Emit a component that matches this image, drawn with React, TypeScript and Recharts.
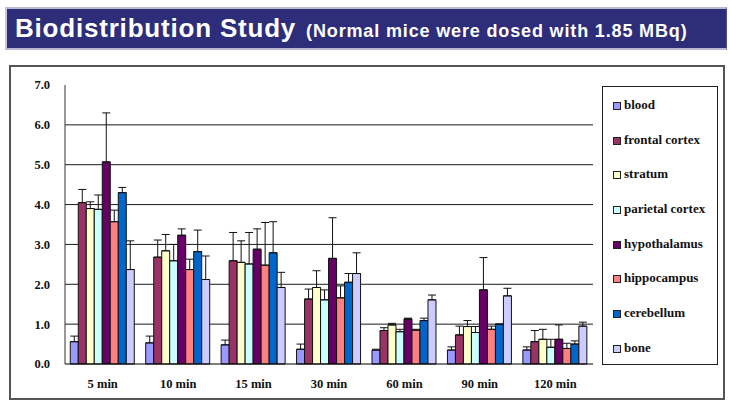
import { Bar, BarChart, CartesianGrid, ErrorBar, XAxis, YAxis } from "recharts"

const categories = ["5 min", "10 min", "15 min", "30 min", "60 min", "90 min", "120 min"]
const yTicks = [0, 1, 2, 3, 4, 5, 6, 7]

// mean %ID/g and upper error (SD)
const blood = [0.56, 0.53, 0.48, 0.37, 0.35, 0.35, 0.35]
const bloodSd = [0.14, 0.17, 0.12, 0.13, 0.02, 0.08, 0.08]
const frontalCortex = [4.05, 2.68, 2.59, 1.63, 0.84, 0.73, 0.56]
const frontalCortexSd = [0.33, 0.43, 0.71, 0.25, 0.07, 0.22, 0.28]
const stratum = [3.9, 2.84, 2.55, 1.92, 0.98, 0.94, 0.62]
const stratumSd = [0.17, 0.41, 0.54, 0.42, 0.04, 0.15, 0.25]
const parietalCortex = [3.88, 2.59, 2.51, 1.61, 0.81, 0.79, 0.42]
const parietalCortexSd = [0.36, 0.41, 0.79, 0.25, 0.06, 0.15, 0.2]
const hypothalamus = [5.07, 3.23, 2.88, 2.65, 1.13, 1.86, 0.62]
const hypothalamusSd = [1.23, 0.16, 0.51, 1.02, 0.02, 0.81, 0.36]
const hippocampus = [3.57, 2.37, 2.48, 1.66, 0.85, 0.87, 0.39]
const hippocampusSd = [0.29, 0.26, 1.07, 0.3, 0.02, 0.08, 0.13]
const cerebellum = [4.3, 2.82, 2.79, 2.05, 1.09, 1.0, 0.5]
const cerebellumSd = [0.13, 0.54, 0.78, 0.22, 0.06, 0, 0.08]
const bone = [2.37, 2.12, 1.92, 2.27, 1.61, 1.71, 0.95]
const boneSd = [0.72, 0.59, 0.38, 0.52, 0.12, 0.19, 0.1]

const series = [
  { key: "blood", name: "blood", color: "#9999FF", values: blood, sd: bloodSd },
  { key: "frontal", name: "frontal cortex", color: "#993366", values: frontalCortex, sd: frontalCortexSd },
  { key: "stratum", name: "stratum", color: "#FFFFCC", values: stratum, sd: stratumSd },
  { key: "parietal", name: "parietal cortex", color: "#CCFFFF", values: parietalCortex, sd: parietalCortexSd },
  { key: "hypo", name: "hypothalamus", color: "#660066", values: hypothalamus, sd: hypothalamusSd },
  { key: "hippo", name: "hippocampus", color: "#FF8080", values: hippocampus, sd: hippocampusSd },
  { key: "cereb", name: "cerebellum", color: "#0066CC", values: cerebellum, sd: cerebellumSd },
  { key: "bone", name: "bone", color: "#CCCCFF", values: bone, sd: boneSd },
]

const data = categories.map((name, i) => {
  const row: Record<string, any> = { name }
  series.forEach((s) => {
    row[s.key] = s.values[i]
    row[s.key + "Err"] = [0, s.sd[i]]
  })
  return row
})

const serif = "'Liberation Serif', 'Times New Roman', serif"

function LegendBox() {
  return (
    <div
      style={{
        position: "absolute",
        left: 602,
        top: 86,
        width: 116,
        height: 279,
        border: "1px solid #222",
        background: "#fff",
        boxSizing: "border-box",
        paddingTop: 11,
        fontFamily: serif,
        fontWeight: "bold",
        fontSize: 13,
        color: "#111",
      }}
    >
      {series.map((s) => (
        <div key={s.key} style={{ height: 34.7, display: "flex", alignItems: "flex-start", paddingLeft: 10 }}>
          <span
            style={{
              width: 6,
              height: 6,
              background: s.color,
              border: "1px solid #222",
              marginTop: 4,
              marginRight: 3,
            }}
          />
          <span style={{ lineHeight: "14px" }}>{s.name}</span>
        </div>
      ))}
    </div>
  )
}

export default function App() {
  return (
    <div style={{ position: "absolute", left: 0, top: 0, width: 732, height: 407, background: "#fff" }}>
      <div
        style={{
          position: "absolute",
          left: 5,
          top: 7,
          width: 722,
          height: 43,
          boxSizing: "border-box",
          background: "#2d2d7a",
          borderTop: "2px solid #b9b9d4",
          borderBottom: "2px solid #b9b9d4",
          borderLeft: "2px solid #c8c8dc",
          borderRight: "1px solid #55558f",
          display: "flex",
          alignItems: "baseline",
          paddingLeft: 8,
          paddingTop: 6,
          color: "#fff",
          fontFamily: "'Liberation Sans', Arial, sans-serif",
          fontWeight: "bold",
          whiteSpace: "nowrap",
        }}
      >
        <span style={{ fontSize: 26, lineHeight: "26px", letterSpacing: 0.8 }}>Biodistribution Study</span>
        <span style={{ fontSize: 18, lineHeight: "18px", marginLeft: 10, letterSpacing: 0.85 }}>
          (Normal mice were dosed with 1.85 MBq)
        </span>
      </div>
      <div
        style={{
          position: "absolute",
          left: 9,
          top: 65,
          width: 716,
          height: 335,
          boxSizing: "border-box",
          border: "2px solid #555",
        }}
      />
      <div style={{ position: "absolute", left: 0, top: 0 }}>
        <BarChart
          width={732}
          height={407}
          data={data}
          margin={{ top: 85, right: 139, left: 15, bottom: 13 }}
          barCategoryGap="7%"
          barGap={0}
        >
          <CartesianGrid vertical={false} horizontalValues={[1, 2, 3, 4, 5, 6]} stroke="#1a1a1a" />
          <XAxis
            dataKey="name"
            height={30}
            axisLine={{ stroke: "#000" }}
            tickLine={false}
            tickSize={0}
            tickMargin={15}
            tick={{ fill: "#111", fontFamily: serif, fontWeight: "bold", fontSize: 12.5 }}
            interval={0}
          />
          <XAxis xAxisId="top" orientation="top" dataKey="name" height={0} tick={false} tickLine={false} axisLine={{ stroke: "#999" }} />
          <YAxis
            domain={[0, 7]}
            ticks={yTicks}
            width={50}
            axisLine={{ stroke: "#333" }}
            tickLine={false}
            tickSize={0}
            tickMargin={15}
            tickFormatter={(v: number) => v.toFixed(1)}
            tick={{ fill: "#111", fontFamily: serif, fontWeight: "bold", fontSize: 12.5 }}
          />
          <YAxis yAxisId="right" orientation="right" width={0} tick={false} tickLine={false} axisLine={{ stroke: "#999" }} />
          {series.map((s) => (
            <Bar key={s.key} dataKey={s.key} name={s.name} fill={s.color} stroke="#111" strokeWidth={1} isAnimationActive={false}>
              <ErrorBar dataKey={s.key + "Err"} width={4} stroke="#111" strokeWidth={1} direction="y" />
            </Bar>
          ))}
        </BarChart>
      </div>
      <LegendBox />
    </div>
  )
}
